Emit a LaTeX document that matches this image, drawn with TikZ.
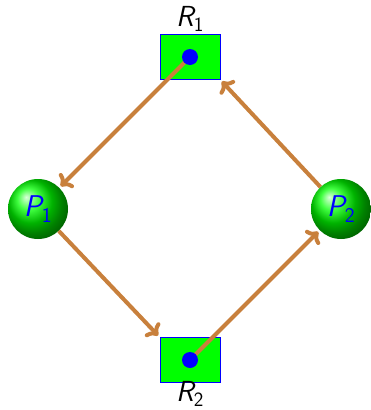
\documentclass[tikz,border=0pt]{standalone}
\usepackage{amsmath}
\usetikzlibrary{arrows.meta,shadings}
\newcommand\slbl[2]{{\sffamily\itshape #1}$_{\textsf{#2}}$}
\begin{document}
\begin{tikzpicture}[x=1pt,y=-1pt,
  rbox/.style={draw=blue,line width=1pt,fill=green,minimum width=60pt,minimum height=45pt,inner sep=0pt},
  rdot/.style={circle,fill=blue,minimum size=16pt,inner sep=0pt},
  ball/.style={circle,shading=ball,ball color=green,minimum size=60pt,inner sep=0pt,text=blue,font=\fontsize{30}{34}\selectfont},
  lbl/.style={font=\fontsize{29}{33}\selectfont,inner sep=0pt},
  arr/.style={draw={rgb,255:red,200;green,128;blue,60},line width=4pt,shorten >=2pt,-{To[length=10pt,width=20pt]}}]
\useasboundingbox (0,0) rectangle (371,410);
\node[rbox] (R1) at (190,57) {};
\node[rbox] (R2) at (190,360) {};
\node[ball] (P1) at (38,209) {\slbl{P}{1}};
\node[ball] (P2) at (341,209) {\slbl{P}{2}};
\node[lbl] (L1) at (190,19) {\slbl{R}{1}};
\node[lbl] (L2) at (190,394) {\slbl{R}{2}};
\draw[arr] (190,57) -- (P1);
\draw[arr] (P1) -- (R2.north west);
\draw[arr] (190,360) -- (P2);
\draw[arr] (P2) -- (R1.south east);
\node[rdot] (D1) at (R1.center) {};
\node[rdot] (D2) at (R2.center) {};
\end{tikzpicture}
\end{document}
